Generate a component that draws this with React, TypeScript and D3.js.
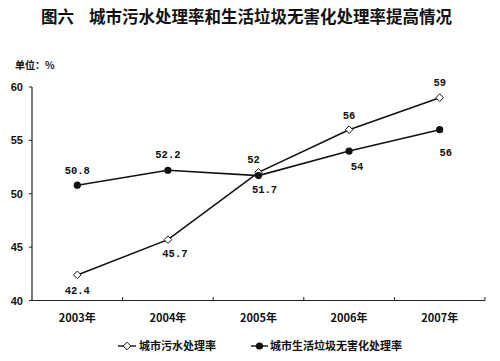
import React from "react";
import * as d3 from "d3";

const years = ["2003年", "2004年", "2005年", "2006年", "2007年"];
const sewage = [42.4, 45.7, 52, 56, 59];
const garbage = [50.8, 52.2, 51.7, 54, 56];
const sewageLabels = ["42.4", "45.7", "52", "56", "59"];
const garbageLabels = ["50.8", "52.2", "51.7", "54", "56"];
const yTicks = [40, 45, 50, 55, 60];
const seriesNames = ["城市污水处理率", "城市生活垃圾无害化处理率"];
const title = "城市污水处理率和生活垃圾无害化处理率提高情况";

const W = 500, H = 361;
const cjk = "'Noto Sans CJK SC', sans-serif";
const mono = "'Liberation Mono', 'DejaVu Sans Mono', monospace";

// label offsets (dx, dy) relative to point
const sewageOff: [number, number][] = [[0, 15], [7, 13], [-5, -13], [0, -15], [0, -16]];
const garbageOff: [number, number][] = [[0, -15], [0, -16], [6, 13], [8, 15], [6, 22]];

function diamond(x: number, y: number, r: number) {
  return `M${x},${y - r}L${x + r},${y}L${x},${y + r}L${x - r},${y}Z`;
}

export default function App() {
  const x = d3.scaleBand<string>().domain(years).range([32, 485]).paddingInner(0).paddingOuter(0);
  const y = d3.scaleLinear().domain([40, 60]).range([300.5, 87]);
  const cx = (i: number) => (x(years[i]) as number) + x.bandwidth() / 2;
  const line = d3.line<number>().x((_, i) => cx(i)).y((d) => y(d));
  const boundaries = years.map((yr) => (x(yr) as number) + x.bandwidth());

  return (
    <svg width={W} height={H} style={{ position: "absolute", left: 0, top: 0, background: "#fff" }}>
      <rect x={0} y={0} width={W} height={H} fill="#fff" />
      <text x={41} y={23} fontFamily={cjk} fontWeight="bold" fontSize={16.5} fill="#111">图六</text>
      <text x={89} y={23} fontFamily={cjk} fontWeight="bold" fontSize={16.5} fill="#111">{title}</text>
      <text x={15} y={69} fontFamily={cjk} fontWeight="bold" fontSize={10} fill="#111">单位：%</text>

      {/* y axis */}
      <line x1={32} x2={32} y1={87} y2={300.5} stroke="#222" strokeWidth={1.2} />
      {yTicks.map((t) => (
        <g key={t}>
          <line x1={29} x2={32} y1={y(t)} y2={y(t)} stroke="#222" strokeWidth={1} />
          <text x={23} y={y(t) + 4} textAnchor="end" fontFamily="'Liberation Sans', Arial, sans-serif" fontWeight="bold" fontSize={11} fill="#111">{t}</text>
        </g>
      ))}
      {/* x axis */}
      <line x1={32} x2={485} y1={300.5} y2={300.5} stroke="#222" strokeWidth={1.2} />
      {boundaries.map((b, i) => (
        <line key={i} x1={b} x2={b} y1={297} y2={300.5} stroke="#222" strokeWidth={1} />
      ))}
      {years.map((yr, i) => (
        <text key={yr} x={cx(i)} y={322} textAnchor="middle" fontFamily={cjk} fontWeight="bold" fontSize={11} fill="#111">{yr}</text>
      ))}

      {/* lines */}
      <path d={line(sewage) || ""} fill="none" stroke="#111" strokeWidth={1.6} />
      <path d={line(garbage) || ""} fill="none" stroke="#111" strokeWidth={1.6} />
      {sewage.map((v, i) => (
        <path key={"s" + i} d={diamond(cx(i), y(v), 3.8)} fill="#fff" stroke="#111" strokeWidth={1} />
      ))}
      {garbage.map((v, i) => (
        <circle key={"g" + i} cx={cx(i)} cy={y(v)} r={3.6} fill="#111" />
      ))}
      {sewage.map((v, i) => (
        <text key={"sl" + i} x={cx(i) + sewageOff[i][0]} y={y(v) + sewageOff[i][1] + 4} textAnchor="middle" fontFamily={mono} fontWeight="bold" fontSize={10.5} fill="#111">{sewageLabels[i]}</text>
      ))}
      {garbage.map((v, i) => (
        <text key={"gl" + i} x={cx(i) + garbageOff[i][0]} y={y(v) + garbageOff[i][1] + 4} textAnchor="middle" fontFamily={mono} fontWeight="bold" fontSize={10.5} fill="#111">{garbageLabels[i]}</text>
      ))}

      {/* legend */}
      <g>
        <line x1={118} x2={136} y1={346} y2={346} stroke="#111" strokeWidth={1.4} />
        <path d={diamond(127, 346, 3.8)} fill="#fff" stroke="#111" strokeWidth={1} />
        <text x={139} y={350} fontFamily={cjk} fontSize={11} fontWeight="bold" fill="#111">{seriesNames[0]}</text>
        <line x1={251} x2={268} y1={346} y2={346} stroke="#111" strokeWidth={1.4} />
        <circle cx={259.5} cy={346} r={3.6} fill="#111" />
        <text x={270} y={350} fontFamily={cjk} fontSize={11} fontWeight="bold" fill="#111">{seriesNames[1]}</text>
      </g>
    </svg>
  );
}
